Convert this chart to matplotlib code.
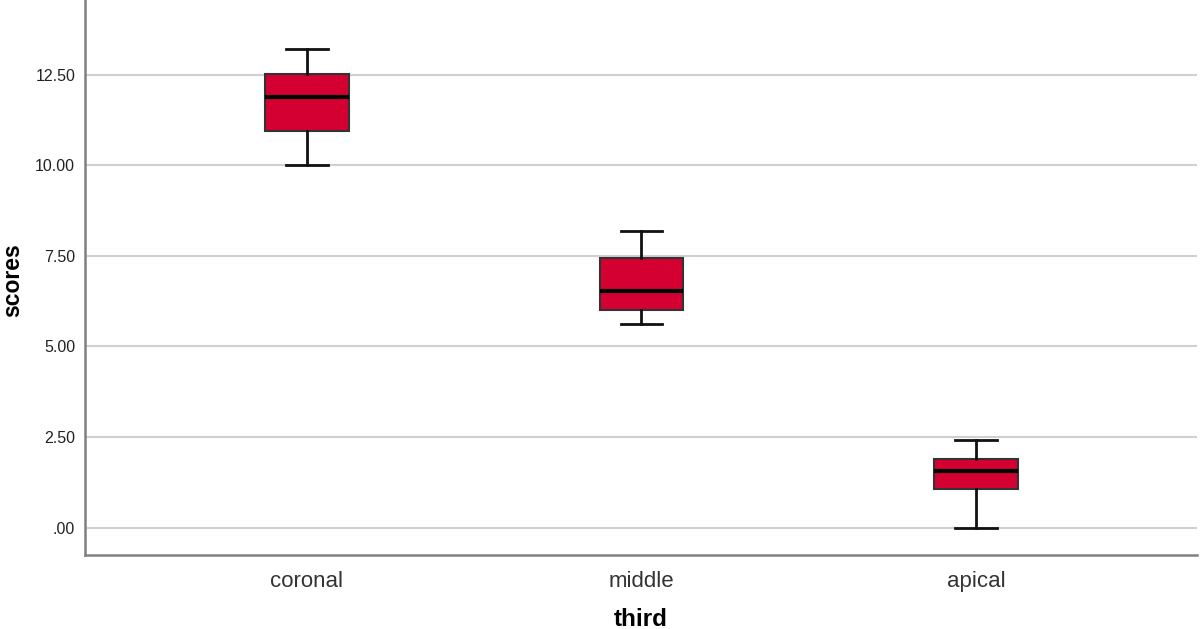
import matplotlib
matplotlib.use("Agg")
import matplotlib.pyplot as plt
from matplotlib.ticker import FuncFormatter

plt.rcParams['font.family'] = ['Liberation Sans', 'DejaVu Sans']

# значения
thirds = ["coronal", "middle", "apical"]
whislo = [10.00, 5.63, 0.00]
q1 = [10.95, 5.99, 1.06]
med = [11.87, 6.53, 1.56]
q3 = [12.53, 7.43, 1.90]
whishi = [13.20, 8.18, 2.41]
yticks = [0, 2.5, 5, 7.5, 10, 12.5]


def fmt(v, pos):
    s = "%.2f" % v
    if s.startswith("0"):
        s = s[1:]
    return s


def main():
    fig = plt.figure(figsize=(12, 6.29), dpi=100)
    ax = fig.add_axes([0.0708, 0.117, 0.9267, 0.883])

    stats = []
    for i in range(len(thirds)):
        stats.append({"label": thirds[i], "whislo": whislo[i], "q1": q1[i],
                      "med": med[i], "q3": q3[i], "whishi": whishi[i], "fliers": []})

    ax.bxp(stats, positions=range(len(thirds)), widths=0.25, patch_artist=True,
           showfliers=False,
           boxprops=dict(facecolor="#D50032", edgecolor="#333333", linewidth=1.5),
           medianprops=dict(color="black", linewidth=3),
           whiskerprops=dict(color="#111111", linewidth=2),
           capprops=dict(color="#111111", linewidth=2),
           capwidths=0.125, zorder=3)

    ax.set_xlim(-0.663, 2.66)
    ax.set_ylim(-0.77, 14.56)
    ax.set_yticks(yticks)
    ax.yaxis.set_major_formatter(FuncFormatter(fmt))
    ax.grid(True, axis="y", color="#D0D0D0", linewidth=1.5, zorder=0)
    ax.set_axisbelow(True)

    for s in ["top", "right"]:
        ax.spines[s].set_visible(False)
    for s in ["left", "bottom"]:
        ax.spines[s].set_color("#808080")
        ax.spines[s].set_linewidth(1.8)

    ax.tick_params(axis="both", length=0)
    ax.tick_params(axis="y", labelsize=11.5, colors="#222222", pad=7)
    ax.tick_params(axis="x", labelsize=16, colors="#333333", pad=11)

    ax.set_xlabel("third", fontsize=17.5, fontweight="bold", labelpad=12)
    # подпись оси Y ставим в координатах фигуры, чтобы не обрезалась
    fig.text(0.011, 1 - 280 / 629, "scores", rotation=90, fontsize=16.5,
             fontweight="bold", ha="center", va="center")

    fig.savefig("out.png", dpi=100)


if __name__ == '__main__':
    main()
